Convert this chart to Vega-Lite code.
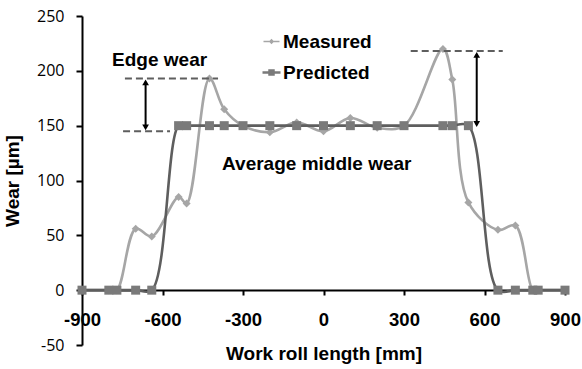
{
  "$schema": "https://vega.github.io/schema/vega-lite/v6.json",
  "width": 483,
  "height": 329,
  "autosize": "none",
  "padding": {"left": 82, "top": 16, "right": 17, "bottom": 24},
  "background": "white",
  "config": {
    "view": {"stroke": null},
    "font": "Liberation Sans",
    "axisX": {
      "offset": -55,
      "grid": false,
      "domainColor": "black", "domainWidth": 2,
      "tickColor": "black", "tickWidth": 2, "tickSize": 5,
      "labelFont": "Liberation Sans", "labelFontSize": 18.5, "labelFontWeight": "bold", "labelColor": "black",
      "labelPadding": 15, "labelOverlap": false, "labelFlush": false, "labelBound": false,
      "labelExpr": "replace(datum.label, '\u2212', '-')",
      "titleFont": "Liberation Sans", "titleFontSize": 19, "titleFontWeight": "bold", "titleColor": "black",
      "titlePadding": 16
    },
    "axisY": {
      "grid": false,
      "domainColor": "black", "domainWidth": 2,
      "tickColor": "black", "tickWidth": 2, "tickSize": 6,
      "labelFont": "Open Sans", "labelFontSize": 16, "labelFontWeight": "normal", "labelColor": "black",
      "labelPadding": 12, "labelOverlap": false, "labelBound": false,
      "labelExpr": "replace(datum.label, '\u2212', '-')",
      "titleFont": "Liberation Sans", "titleFontSize": 19, "titleFontWeight": "bold", "titleColor": "black",
      "titlePadding": 14
    }
  },
  "datasets": {
    "wear": [
      {"x": -900, "series": "Measured", "wear": 0},
      {"x": -800, "series": "Measured", "wear": 0},
      {"x": -770, "series": "Measured", "wear": 0},
      {"x": -700, "series": "Measured", "wear": 56},
      {"x": -640, "series": "Measured", "wear": 49},
      {"x": -540, "series": "Measured", "wear": 85},
      {"x": -510, "series": "Measured", "wear": 79},
      {"x": -425, "series": "Measured", "wear": 193},
      {"x": -370, "series": "Measured", "wear": 165},
      {"x": -300, "series": "Measured", "wear": 150},
      {"x": -200, "series": "Measured", "wear": 144},
      {"x": -100, "series": "Measured", "wear": 153},
      {"x": 0, "series": "Measured", "wear": 145},
      {"x": 100, "series": "Measured", "wear": 157},
      {"x": 200, "series": "Measured", "wear": 148},
      {"x": 300, "series": "Measured", "wear": 150},
      {"x": 445, "series": "Measured", "wear": 220},
      {"x": 480, "series": "Measured", "wear": 192},
      {"x": 540, "series": "Measured", "wear": 80},
      {"x": 650, "series": "Measured", "wear": 55},
      {"x": 715, "series": "Measured", "wear": 59},
      {"x": 780, "series": "Measured", "wear": 0},
      {"x": 800, "series": "Measured", "wear": 0},
      {"x": 900, "series": "Measured", "wear": 0},
      {"x": -900, "series": "Predicted", "wear": 0},
      {"x": -800, "series": "Predicted", "wear": 0},
      {"x": -770, "series": "Predicted", "wear": 0},
      {"x": -700, "series": "Predicted", "wear": 0},
      {"x": -640, "series": "Predicted", "wear": 0},
      {"x": -540, "series": "Predicted", "wear": 150},
      {"x": -510, "series": "Predicted", "wear": 150},
      {"x": -425, "series": "Predicted", "wear": 150},
      {"x": -370, "series": "Predicted", "wear": 150},
      {"x": -300, "series": "Predicted", "wear": 150},
      {"x": -200, "series": "Predicted", "wear": 150},
      {"x": -100, "series": "Predicted", "wear": 150},
      {"x": 0, "series": "Predicted", "wear": 150},
      {"x": 100, "series": "Predicted", "wear": 150},
      {"x": 200, "series": "Predicted", "wear": 150},
      {"x": 300, "series": "Predicted", "wear": 150},
      {"x": 445, "series": "Predicted", "wear": 150},
      {"x": 480, "series": "Predicted", "wear": 150},
      {"x": 540, "series": "Predicted", "wear": 150},
      {"x": 650, "series": "Predicted", "wear": 0},
      {"x": 715, "series": "Predicted", "wear": 0},
      {"x": 780, "series": "Predicted", "wear": 0},
      {"x": 800, "series": "Predicted", "wear": 0},
      {"x": 900, "series": "Predicted", "wear": 0}
    ],
    "dashes": [
      {"x1": -740, "x2": -393, "y": 193},
      {"x1": -747, "x2": -572, "y": 145},
      {"x1": 325, "x2": 668, "y": 218}
    ],
    "arrows": [
      {"x": -663, "y1": 190, "y2": 148},
      {"x": 571, "y1": 215, "y2": 151}
    ],
    "heads": [
      {"x": -663, "y": 189.5, "dir": "up"},
      {"x": -663, "y": 148.5, "dir": "down"},
      {"x": 571, "y": 214.5, "dir": "up"},
      {"x": 571, "y": 151.5, "dir": "down"}
    ],
    "notes": [
      {"x": -788, "y": 204, "text": "Edge wear"},
      {"x": -378, "y": 110, "text": "Average middle wear"}
    ]
  },
  "layer": [
    {
      "data": {"name": "wear"},
      "mark": {"type": "line", "interpolate": "catmull-rom", "strokeWidth": 2.6},
      "encoding": {
        "x": {
          "field": "x", "type": "quantitative",
          "scale": {"domain": [-900, 900], "nice": false},
          "axis": {"title": "Work roll length [mm]", "values": [-900, -600, -300, 0, 300, 600, 900]}
        },
        "y": {
          "field": "wear", "type": "quantitative",
          "scale": {"domain": [-50, 250], "nice": false},
          "axis": {"title": "Wear [µm]", "values": [-50, 0, 50, 100, 150, 200, 250]}
        },
        "color": {
          "field": "series", "type": "nominal",
          "scale": {"domain": ["Measured", "Predicted"], "range": ["#A6A6A6", "#5E5E5E"]},
          "legend": {
            "orient": "none", "legendX": 180, "legendY": 16, "title": null,
            "labelFont": "Liberation Sans", "labelFontSize": 19, "labelFontWeight": "bold", "labelColor": "black",
            "symbolSize": 400, "labelOffset": 2, "rowPadding": 11, "padding": 0,
            "symbolStrokeWidth": 0,
            "encode": {
              "symbols": {
                "update": {
                  "shape": {"signal": "datum.value === 'Measured' ? 'M-2,-0.2L2,-0.2L2,0.2L-2,0.2Z M0,-0.66L0.66,0L0,0.66L-0.66,0Z' : 'M-2,-0.28L2,-0.28L2,0.28L-2,0.28Z M-0.72,-0.72L0.72,-0.72L0.72,0.72L-0.72,0.72Z'"},
                  "fill": {"signal": "datum.value === 'Measured' ? '#A6A6A6' : '#707070'"},
                  "size": {"value": 400},
                  "strokeWidth": {"value": 0},
                  "opacity": {"value": 1}
                }
              }
            }
          }
        }
      }
    },
    {
      "data": {"name": "wear"},
      "mark": {"type": "point", "filled": true, "opacity": 1, "strokeWidth": 0},
      "encoding": {
        "x": {"field": "x", "type": "quantitative", "scale": {"domain": [-900, 900], "nice": false}, "axis": {"title": "Work roll length [mm]", "values": [-900, -600, -300, 0, 300, 600, 900]}},
        "y": {"field": "wear", "type": "quantitative", "scale": {"domain": [-50, 250], "nice": false}, "axis": {"title": "Wear [µm]", "values": [-50, 0, 50, 100, 150, 200, 250]}},
        "fill": {
          "field": "series", "type": "nominal",
          "scale": {"domain": ["Measured", "Predicted"], "range": ["#A6A6A6", "#7A7A7A"]},
          "legend": null
        },
        "shape": {
          "field": "series", "type": "nominal",
          "scale": {"domain": ["Measured", "Predicted"], "range": ["diamond", "square"]},
          "legend": null
        },
        "size": {
          "field": "series", "type": "nominal",
          "scale": {"domain": ["Measured", "Predicted"], "range": [64, 81]},
          "legend": null
        }
      }
    },
    {
      "data": {"name": "dashes"},
      "mark": {"type": "rule", "color": "#5E5E5E", "strokeWidth": 2, "strokeDash": [7, 4]},
      "encoding": {
        "x": {"field": "x1", "type": "quantitative", "scale": {"domain": [-900, 900], "nice": false}, "axis": {"title": "Work roll length [mm]", "values": [-900, -600, -300, 0, 300, 600, 900]}},
        "x2": {"field": "x2"},
        "y": {"field": "y", "type": "quantitative", "scale": {"domain": [-50, 250], "nice": false}, "axis": {"title": "Wear [µm]", "values": [-50, 0, 50, 100, 150, 200, 250]}}
      }
    },
    {
      "data": {"name": "arrows"},
      "mark": {"type": "rule", "color": "black", "strokeWidth": 2},
      "encoding": {
        "x": {"field": "x", "type": "quantitative", "scale": {"domain": [-900, 900], "nice": false}, "axis": {"title": "Work roll length [mm]", "values": [-900, -600, -300, 0, 300, 600, 900]}},
        "y": {"field": "y1", "type": "quantitative", "scale": {"domain": [-50, 250], "nice": false}, "axis": {"title": "Wear [µm]", "values": [-50, 0, 50, 100, 150, 200, 250]}},
        "y2": {"field": "y2"}
      }
    },
    {
      "data": {"name": "heads"},
      "mark": {"type": "point", "filled": true, "color": "black", "opacity": 1, "size": 45, "strokeWidth": 0},
      "encoding": {
        "x": {"field": "x", "type": "quantitative", "scale": {"domain": [-900, 900], "nice": false}, "axis": {"title": "Work roll length [mm]", "values": [-900, -600, -300, 0, 300, 600, 900]}},
        "y": {"field": "y", "type": "quantitative", "scale": {"domain": [-50, 250], "nice": false}, "axis": {"title": "Wear [µm]", "values": [-50, 0, 50, 100, 150, 200, 250]}},
        "shape": {
          "field": "dir", "type": "nominal",
          "scale": {"domain": ["up", "down"], "range": ["triangle-up", "triangle-down"]},
          "legend": null
        }
      }
    },
    {
      "data": {"name": "notes"},
      "mark": {"type": "text", "align": "left", "baseline": "alphabetic", "font": "Liberation Sans", "fontSize": 19, "fontWeight": "bold", "color": "black"},
      "encoding": {
        "x": {"field": "x", "type": "quantitative", "scale": {"domain": [-900, 900], "nice": false}, "axis": {"title": "Work roll length [mm]", "values": [-900, -600, -300, 0, 300, 600, 900]}},
        "y": {"field": "y", "type": "quantitative", "scale": {"domain": [-50, 250], "nice": false}, "axis": {"title": "Wear [µm]", "values": [-50, 0, 50, 100, 150, 200, 250]}},
        "text": {"field": "text"}
      }
    }
  ],
  "resolve": {"scale": {"shape": "independent"}}
}
